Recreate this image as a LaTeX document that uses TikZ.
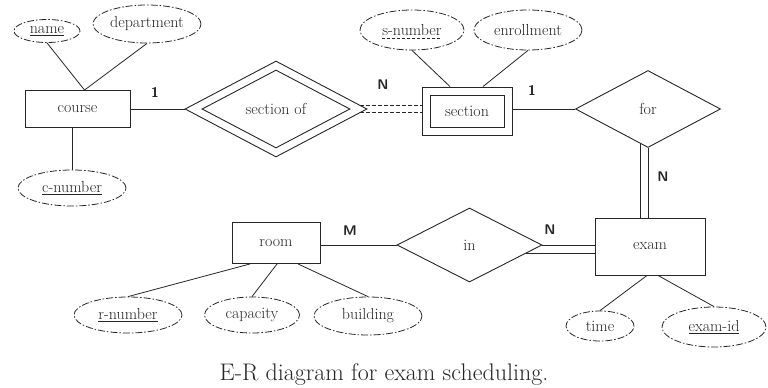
\documentclass[tikz,border=0pt]{standalone}
\usetikzlibrary{shapes.geometric,calc}
\colorlet{ink}{black!85}
\begin{document}
\begin{tikzpicture}[x=1pt,y=-1pt,
  every node/.style={font=\fontsize{16}{18}\selectfont, text=ink},
  ent/.style={draw=ink, rectangle, inner sep=0pt, line width=0.9pt},
  rel/.style={draw=ink, diamond, inner sep=0pt, line width=0.9pt},
  attr/.style={draw=ink, ellipse, inner sep=0pt, line width=0.8pt,
    dash pattern=on 7pt off 2pt on 1.5pt off 2pt},
  lnk/.style={draw=ink, line width=0.8pt},
  dlnk/.style={draw=ink, line width=0.8pt, dash pattern=on 4pt off 2pt},
  ulk/.style={draw=ink, line width=0.6pt},
  card/.style={font=\fontsize{14}{16}\selectfont\sffamily\bfseries, inner sep=0pt}]
\useasboundingbox (0,0) rectangle (768,388);

% entities
\node[ent, minimum width=105pt, minimum height=37pt] (course) at (77.5,109) {course};
\node[ent, minimum width=90pt, minimum height=48pt] (section) at (467,111) {};
\node[ent, minimum width=74pt, minimum height=32pt] (sectionin) at (467,111) {section};
\node[ent, minimum width=88pt, minimum height=41pt] (room) at (276,243) {room};
\node[ent, minimum width=110pt, minimum height=57pt] (exam) at (650,246.5) {exam};

% relationships
\node[rel, minimum width=182pt, minimum height=96pt] (secof) at (276,109) {};
\node[rel, minimum width=148pt, minimum height=78pt] (secofin) at (276,109) {section of};
\node[rel, minimum width=145pt, minimum height=77pt] (for) at (648,109) {for};
\node[rel, minimum width=145pt, minimum height=74pt] (in) at (469.5,245) {in};

% attributes
\node[attr, minimum width=66pt, minimum height=23pt] (name) at (47,31) {\underline{name}};
\node[attr, minimum width=108pt, minimum height=38pt] (dept) at (147,24) {department};
\node[attr, minimum width=108pt, minimum height=36pt] (cnum) at (72,188) {\underline{c-number}};
\node[attr, minimum width=104pt, minimum height=40pt] (snum) at (412,30) {};
\node[inner sep=0pt] (snumt) at (412,30) {s-number};
\node[attr, minimum width=108pt, minimum height=40pt] (enrol) at (528,30) {enrollment};
\node[attr, minimum width=108pt, minimum height=36pt] (rnum) at (128,315) {\underline{r-number}};
\node[attr, minimum width=95pt, minimum height=36pt] (capa) at (252,315) {capacity};
\node[attr, minimum width=108pt, minimum height=38pt] (bld) at (368,316) {building};
\node[attr, minimum width=68pt, minimum height=30pt] (time) at (600,326) {time};
\node[attr, minimum width=104pt, minimum height=40pt] (exid) at (714,327) {\underline{exam-id}};
\draw[ulk, dash pattern=on 3pt off 2pt] ($(snumt.base west)+(0,2.5)$) -- ($(snumt.base east)+(0,2.5)$);

% attribute links
\coordinate (cjoin) at ($(course.north)+(7,0)$);
\draw[lnk] (name.south) -- (cjoin);
\draw[lnk] (dept.south) -- (cjoin);
\draw[lnk] (cnum.north) -- (cnum.north |- course.south);
\draw[lnk] (snum.south) -- ($(section.north)+(-17,0)$);
\draw[lnk] (enrol.south) -- ($(section.north)+(16,0)$);
\draw[lnk] (rnum.north) -- ($(room.south)+(-26,0)$);
\draw[lnk] (capa.north) -- ($(room.south)+(1,0)$);
\draw[lnk] (bld.north) -- ($(room.south)+(22,0)$);
\draw[lnk] (time.north) -- ($(exam.south)+(-3,0)$);
\draw[lnk] (exid.north) -- ($(exam.south)+(8,0)$);

% relationship links
\draw[lnk] (secof.west -| course.east) -- (secof.west);
\coordinate (sa) at ($(secof.east)!0.08!(secof.north)$);
\coordinate (sb) at ($(secof.east)!0.08!(secof.south)$);
\draw[dlnk] (sa) -- (sa -| section.west);
\draw[dlnk] (sb) -- (sb -| section.west);
\draw[lnk] (for.west -| section.east) -- (for.west);
\coordinate (fa) at ($(for.south)!0.11!(for.west)$);
\draw[lnk] (for.south) -- (for.south |- exam.north);
\draw[lnk] (fa) -- (fa |- exam.north);
\draw[lnk] (in.west -| room.east) -- (in.west);
\coordinate (ia) at ($(in.east)!0.22!(in.south)$);
\draw[lnk] (in.east) -- (in.east -| exam.west);
\draw[lnk] (ia) -- (ia -| exam.west);

% cardinalities
\node[card] (c1) at (155,92) {1};
\node[card] (c2) at (383,85) {N};
\node[card] (c3) at (532,90) {1};
\node[card] (c4) at (663,177) {N};
\node[card] (c5) at (350,231) {M};
\node[card] (c6) at (550,230) {N};

% caption
\node[font=\fontsize{24}{28}\selectfont, anchor=base, inner sep=0pt] (caption) at (384,380) {E-R diagram for exam scheduling.};
\end{tikzpicture}
\end{document}
